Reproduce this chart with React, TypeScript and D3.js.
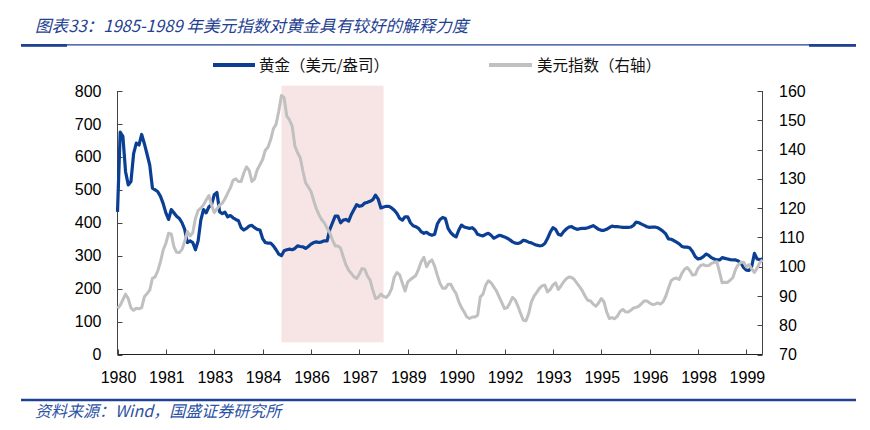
import React from 'react';
import * as d3 from 'd3';

// monthly series (left axis: gold USD/oz, right axis: dollar index)
const gold: number[] = [
  433, 675, 662, 555, 515, 525, 610, 642, 636, 668, 640, 608, 575, 505, 500, 494, 480, 458, 430, 410,
  440, 430, 420, 413, 400, 380, 340, 345, 340, 318, 345, 408, 440, 430, 448, 455, 485, 492, 433, 428,
  432, 418, 422, 415, 410, 406, 385, 378, 383, 390, 392, 385, 380, 378, 352, 340, 338, 338, 330, 318,
  305, 300, 315, 318, 320, 318, 322, 330, 328, 327, 322, 328, 335, 340, 342, 340, 342, 345, 345, 380,
  400, 420, 420, 400, 408, 410, 405, 425, 440, 455, 450, 452, 460, 462, 465, 470, 484, 472, 445, 448,
  450, 450, 445, 438, 428, 413, 408, 418, 418, 400, 391, 388, 383, 373, 368, 371, 365, 362, 365, 396,
  410, 416, 413, 383, 370, 362, 357, 378, 393, 387, 385, 383, 385, 378, 365, 362, 360, 365, 368, 362,
  353, 357, 362, 360, 357, 353, 348, 342, 338, 337, 340, 347, 345, 341, 339, 335, 332, 330, 331, 337,
  352, 371, 385, 380, 365, 362, 373, 381, 387, 388, 383, 380, 382, 383, 383, 385, 388, 391, 386, 380,
  377, 377, 380, 385, 390, 388, 388, 387, 386, 386, 386, 387, 392, 402, 400, 396, 392, 388, 386, 387,
  387, 385, 380, 374, 366, 351, 350, 346, 341, 336, 328, 326, 326, 323, 312, 297, 290, 292, 297, 305,
  301, 294, 290, 287, 287, 294, 292, 290, 288, 287, 287, 284, 277, 264, 256, 255, 268, 307, 290, 288,
  290,
];

const dollarIndex: number[] = [
  85.7, 86.8, 88.7, 90.6, 89.1, 85.9, 85.1, 85.8, 85.6, 86.0, 89.7, 90.8, 92.0, 96.0, 96.5, 98.6, 101.7, 105.7, 108.0, 111.4,
  111.2, 106.8, 104.9, 104.8, 105.9, 108.6, 112.0, 110.5, 111.6, 116.5, 119.2, 120.0, 121.1, 122.8, 124.3, 121.1, 118.5, 119.7, 121.1, 121.7,
  123.2, 125.1, 126.9, 129.5, 130.0, 129.1, 129.1, 132.0, 134.1, 132.9, 129.1, 130.0, 133.1, 134.8, 136.6, 139.8, 140.8, 143.4, 147.1, 148.6,
  153.1, 158.5, 157.7, 151.4, 150.1, 148.0, 141.2, 138.9, 137.2, 132.6, 128.6, 127.2, 125.7, 122.6, 119.7, 117.7, 116.0, 114.9, 113.1, 111.6,
  109.1, 107.1, 107.1, 106.3, 103.4, 100.6, 98.8, 97.7, 96.5, 96.0, 97.5, 99.4, 99.1, 96.8, 95.4, 92.0, 89.1, 89.5, 90.6, 89.8,
  89.5, 90.5, 92.5, 96.5, 98.0, 97.2, 94.3, 91.7, 94.8, 95.6, 96.3, 97.0, 99.1, 101.7, 103.2, 100.0, 101.6, 102.3, 100.2, 97.1,
  94.3, 92.6, 92.6, 94.0, 94.0, 92.2, 90.8, 88.0, 86.0, 84.5, 82.8, 82.3, 82.8, 82.8, 83.4, 89.7, 90.6, 93.7, 95.2, 94.5,
  93.1, 91.7, 89.7, 87.7, 85.7, 86.0, 87.6, 89.5, 88.6, 86.5, 84.0, 81.7, 81.5, 84.0, 88.0, 89.9, 91.2, 92.6, 93.5, 93.7,
  91.4, 92.2, 93.7, 94.5, 92.2, 93.4, 94.8, 95.9, 96.5, 96.3, 95.6, 94.3, 93.1, 91.7, 89.9, 88.5, 88.3, 87.2, 86.5, 87.6,
  89.1, 88.0, 84.6, 82.3, 82.6, 82.2, 83.1, 84.7, 85.4, 84.6, 84.5, 85.1, 85.9, 86.1, 86.5, 87.4, 88.3, 88.3, 87.6, 87.1,
  87.2, 87.6, 87.2, 88.0, 89.9, 92.6, 95.2, 95.9, 96.1, 95.6, 97.7, 99.1, 99.7, 98.6, 97.1, 97.3, 99.4, 100.4, 100.7, 100.3,
  100.4, 101.1, 101.5, 101.7, 98.2, 94.5, 94.7, 94.6, 95.4, 96.3, 99.1, 100.7, 101.5, 101.5, 99.9, 100.7, 99.2, 98.0, 99.5, 101.4,
  102.3,
];

const xTickLabels = ['1980', '1981', '1983', '1984', '1986', '1987', '1989', '1990', '1992', '1993', '1995', '1996', '1998', '1999'];
const tickEvery = 18;

// highlighted period (index range) and its vertical extent on the gold axis
const shadeSpan = [61, 99];
const shadeRange = [37, 816];

const title = '图表33：1985-1989 年美元指数对黄金具有较好的解释力度';
const source = '资料来源：Wind，国盛证券研究所';
const legendNames = ['黄金（美元/盎司）', '美元指数（右轴）'];

const W = 870;
const H = 430;
const plot = { left: 117.5, right: 762.5, top: 91, bottom: 354.5 };
const blue = '#0a3f94';
const grey = '#c0c0c0';
const ink = '#1f4192';
const cjk = '"Noto Sans CJK SC", "Noto Sans", sans-serif';
const num = '"Liberation Sans", Arial, sans-serif';

export default function App() {
  const x = d3.scaleLinear().domain([0, gold.length - 1]).range([plot.left, plot.right]);
  const yL = d3.scaleLinear().domain([0, 800]).range([plot.bottom, plot.top]);
  const yR = d3.scaleLinear().domain([70, 160]).range([plot.bottom, plot.top]);

  const goldLine = d3.line<number>().x((_, i) => x(i)).y(d => yL(d));
  const usdLine = d3.line<number>().x((_, i) => x(i)).y(d => yR(d));

  const xTicks = xTickLabels.map((lab, k) => ({ lab, i: k * tickEvery }));

  return (
    <div style={{ position: 'absolute', left: 0, top: 0 }}>
      <svg width={W} height={H} style={{ display: 'block', background: '#fff' }}>
        {/* header */}
        <text x={35} y={32} fill={ink} fontFamily={cjk} fontSize={16.6} fontStyle="italic">{title}</text>
        <line x1={21} x2={856} y1={44.8} y2={44.8} stroke={ink} strokeWidth={1.3} />
        <rect x={21} y={44} width={46} height={2.8} fill={ink} />
        <rect x={809} y={44} width={47} height={2.8} fill={ink} />

        {/* legend */}
        <line x1={213} x2={255} y1={65} y2={65} stroke={blue} strokeWidth={4} />
        <text x={259} y={70.5} fontFamily={cjk} fontSize={15.5} fill="#111">{legendNames[0]}</text>
        <line x1={489} x2={532} y1={65} y2={65} stroke={grey} strokeWidth={4} />
        <text x={537} y={70.5} fontFamily={cjk} fontSize={15.5} fill="#111">{legendNames[1]}</text>

        {/* shaded period */}
        <rect
          x={x(shadeSpan[0])}
          y={yL(shadeRange[1])}
          width={x(shadeSpan[1]) - x(shadeSpan[0])}
          height={yL(shadeRange[0]) - yL(shadeRange[1])}
          fill="#f7e5e5"
        />

        {/* axes */}
        <g stroke="#444" strokeWidth={1} fill="none">
          <line x1={plot.left} x2={plot.left} y1={plot.top} y2={plot.bottom} />
          <line x1={plot.right} x2={plot.right} y1={plot.top} y2={plot.bottom} />
          <line x1={plot.left} x2={plot.right} y1={plot.bottom} y2={plot.bottom} stroke="#222" />
          {yL.ticks(8).map(t => (
            <line key={'l' + t} x1={plot.left} x2={plot.left + 5} y1={Math.round(yL(t)) + 0.5} y2={Math.round(yL(t)) + 0.5} />
          ))}
          {yR.ticks(9).map(t => (
            <line key={'r' + t} x1={plot.right - 5} x2={plot.right} y1={Math.round(yR(t)) + 0.5} y2={Math.round(yR(t)) + 0.5} />
          ))}
          {xTicks.map(t => (
            <line key={'x' + t.i} x1={Math.round(x(t.i)) + 0.5} x2={Math.round(x(t.i)) + 0.5} y1={plot.bottom} y2={plot.bottom - 5} />
          ))}
        </g>

        <g fontFamily={num} fontSize={16} fill="#000">
          {yL.ticks(8).map(t => (
            <text key={'lt' + t} x={101.5} y={yL(t)} dy="0.35em" textAnchor="end">{t}</text>
          ))}
          {yR.ticks(9).map(t => (
            <text key={'rt' + t} x={779} y={yR(t)} dy="0.35em">{t}</text>
          ))}
          {xTicks.map(t => (
            <text key={'xt' + t.i} x={x(t.i) + 1} y={383} textAnchor="middle">{t.lab}</text>
          ))}
        </g>

        {/* series */}
        <path d={goldLine(gold) || ''} fill="none" stroke={blue} strokeWidth={3.2} strokeLinejoin="round" />
        <path d={usdLine(dollarIndex) || ''} fill="none" stroke={grey} strokeWidth={3} strokeLinejoin="round" />

        {/* footer */}
        <line x1={21} x2={856} y1={400} y2={400} stroke={ink} strokeWidth={2.5} />
        <text x={35} y={417} fill="#2c53a3" fontFamily={cjk} fontSize={16} fontStyle="italic">{source}</text>
      </svg>
    </div>
  );
}
